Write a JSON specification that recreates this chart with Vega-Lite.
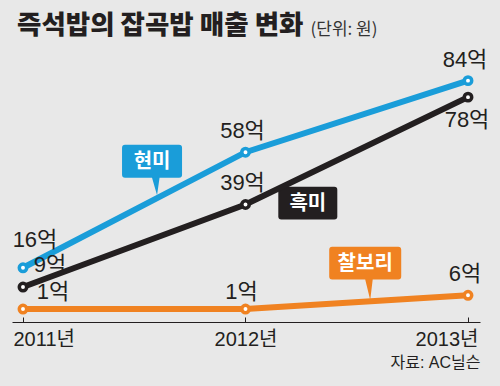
{
  "$schema": "https://vega.github.io/schema/vega-lite/v6.json",
  "width": 468,
  "height": 262,
  "autosize": {"type": "none"},
  "padding": {"left": 12, "top": 60, "right": 20, "bottom": 64},
  "background": "#e8e8e8",
  "config": {
    "view": {"stroke": null},
    "text": {"font": "Liberation Sans Narrow, Liberation Sans, Noto Sans CJK KR", "fontSize": 22, "fill": "#231f20"}
  },
  "title": {
    "text": "즉석밥의 잡곡밥 매출 변화",
    "anchor": "start",
    "frame": "group",
    "font": "Noto Sans CJK KR",
    "fontSize": 26.5,
    "fontWeight": 900,
    "color": "#231f20",
    "dx": 5,
    "offset": -40,
    "baseline": "alphabetic"
  },
  "datasets": {
    "sales": [
      {"year": 2011, "series": "현미", "value": 16, "label": "16억"},
      {"year": 2012, "series": "현미", "value": 58, "label": "58억"},
      {"year": 2013, "series": "현미", "value": 84, "label": "84억"},
      {"year": 2011, "series": "흑미", "value": 9, "label": "9억"},
      {"year": 2012, "series": "흑미", "value": 39, "label": "39억"},
      {"year": 2013, "series": "흑미", "value": 78, "label": "78억"},
      {"year": 2011, "series": "찰보리", "value": 1, "label": "1억"},
      {"year": 2012, "series": "찰보리", "value": 1, "label": "1억"},
      {"year": 2013, "series": "찰보리", "value": 6, "label": "6억"}
    ],
    "callouts": [
      {"series": "현미", "year": 2011.58, "value": 54.7},
      {"series": "흑미", "year": 2012.28, "value": 39.5},
      {"series": "찰보리", "year": 2012.538, "value": 17.7}
    ]
  },
  "data": {"name": "sales"},
  "encoding": {
    "x": {
      "field": "year",
      "type": "quantitative",
      "scale": {"domain": [2010.9506, 2013.0539], "nice": false, "zero": false},
      "axis": {
        "values": [2011, 2012, 2013],
        "labelExpr": "datum.value + '년'",
        "grid": false,
        "domainColor": "#231f20",
        "domainWidth": 1,
        "tickColor": "#231f20",
        "tickSize": -5,
        "tickWidth": 1,
        "labelFlush": 15,
        "labelFlushOffset": 10,
        "labelPadding": 12,
        "labelFont": "Liberation Sans Narrow, Liberation Sans, Noto Sans CJK KR",
        "labelFontSize": 20,
        "labelColor": "#231f20",
        "title": "자료: AC닐슨",
        "titleAnchor": "end",
        "titleAlign": "right",
        "titleFont": "Liberation Sans Narrow, Liberation Sans, Noto Sans CJK KR",
        "titleFontSize": 16,
        "titleFontWeight": "normal",
        "titleColor": "#231f20",
        "titlePadding": 5
      }
    },
    "y": {
      "field": "value",
      "type": "quantitative",
      "scale": {"domain": [-3.7, 91.5], "nice": false, "zero": false},
      "axis": {
        "orient": "left",
        "title": "(단위: 원)",
        "labels": false,
        "ticks": false,
        "domain": false,
        "grid": false,
        "titleAngle": 0,
        "titleAlign": "left",
        "titleBaseline": "alphabetic",
        "titleX": 298,
        "titleY": -26,
        "titleFont": "Noto Sans CJK KR",
        "titleFontSize": 17,
        "titleFontWeight": "normal",
        "titleColor": "#333333"
      }
    }
  },
  "layer": [
    {
      "data": {"name": "callouts"},
      "transform": [{"filter": "datum.series == '현미'"}],
      "mark": {"type": "point", "filled": true, "fill": "#1a9dd9", "opacity": 1, "strokeWidth": 0, "size": 4,
        "shape": "M-27,-16.5 L27,-16.5 Q30,-16.5 30,-13.5 L30,13.5 Q30,16.5 27,16.5 L7.5,16.5 L5,34 L0,16.5 L-27,16.5 Q-30,16.5 -30,13.5 L-30,-13.5 Q-30,-16.5 -27,-16.5 Z"}
    },
    {
      "data": {"name": "callouts"},
      "transform": [{"filter": "datum.series == '흑미'"}],
      "mark": {"type": "point", "filled": true, "fill": "#231f20", "opacity": 1, "strokeWidth": 0, "size": 4,
        "shape": "M-26.5,-16.3 L26.5,-16.3 Q29.5,-16.3 29.5,-13.3 L29.5,13.3 Q29.5,16.3 26.5,16.3 L-26.5,16.3 Q-29.5,16.3 -29.5,13.3 L-29.5,-13.3 Q-29.5,-16.3 -26.5,-16.3 Z"}
    },
    {
      "data": {"name": "callouts"},
      "transform": [{"filter": "datum.series == '찰보리'"}],
      "mark": {"type": "point", "filled": true, "fill": "#f08221", "opacity": 1, "strokeWidth": 0, "size": 4,
        "shape": "M-33,-16.3 L33,-16.3 Q36,-16.3 36,-13.3 L36,13.3 Q36,16.3 33,16.3 L7.5,16.3 L5,37 L0,16.3 L-33,16.3 Q-36,16.3 -36,13.3 L-36,-13.3 Q-36,-16.3 -33,-16.3 Z"}
    },
    {
      "mark": {"type": "line", "strokeWidth": 6, "strokeCap": "round"},
      "encoding": {
        "color": {"field": "series", "type": "nominal", "scale": {"domain": ["현미", "흑미", "찰보리"], "range": ["#1a9dd9", "#231f20", "#f08221"]}, "legend": null}
      }
    },
    {
      "mark": {"type": "point", "filled": false, "fill": "#ffffff", "fillOpacity": 1, "opacity": 1, "strokeWidth": 3.5, "size": 55},
      "encoding": {
        "stroke": {"field": "series", "type": "nominal", "scale": {"domain": ["현미", "흑미", "찰보리"], "range": ["#1a9dd9", "#231f20", "#f08221"]}, "legend": null}
      }
    },
    {
      "data": {"name": "callouts"},
      "mark": {"type": "text", "font": "Noto Sans CJK KR", "fontSize": 20, "fontWeight": "bold", "fill": "#ffffff", "baseline": "middle", "dy": 1},
      "encoding": {"text": {"field": "series"}}
    },
    {
      "transform": [{"filter": "datum.year != 2011 && !(datum.series == '흑미' && datum.year == 2013) && !(datum.series == '찰보리' && datum.year == 2012)"}],
      "mark": {"type": "text", "baseline": "middle", "dx": -3, "dy": -21},
      "encoding": {"text": {"field": "label"}}
    },
    {
      "transform": [{"filter": "datum.series == '흑미' && datum.year == 2013"}],
      "mark": {"type": "text", "baseline": "middle", "dx": -1, "dy": 23},
      "encoding": {"text": {"field": "label"}}
    },
    {
      "transform": [{"filter": "datum.series == '찰보리' && datum.year == 2012"}],
      "mark": {"type": "text", "baseline": "middle", "dx": -4, "dy": -17},
      "encoding": {"text": {"field": "label"}}
    },
    {
      "transform": [{"filter": "datum.series == '현미' && datum.year == 2011"}],
      "mark": {"type": "text", "baseline": "middle", "dx": 12, "dy": -28},
      "encoding": {"text": {"field": "label"}}
    },
    {
      "transform": [{"filter": "datum.series == '흑미' && datum.year == 2011"}],
      "mark": {"type": "text", "baseline": "middle", "dx": 27, "dy": -22},
      "encoding": {"text": {"field": "label"}}
    },
    {
      "transform": [{"filter": "datum.series == '찰보리' && datum.year == 2011"}],
      "mark": {"type": "text", "baseline": "middle", "dx": 30, "dy": -17},
      "encoding": {"text": {"field": "label"}}
    }
  ]
}
